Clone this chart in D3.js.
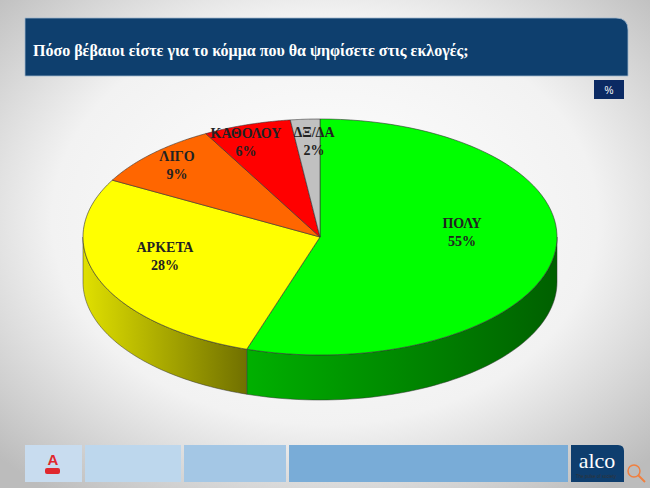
<!DOCTYPE html>
<html><head><meta charset="utf-8">
<script src="https://cdn.jsdelivr.net/npm/d3@7"></script>
<style>body{margin:0;}svg{display:block;}</style>
</head><body>
<script>
const categories = ["ΠΟΛΥ","ΑΡΚΕΤΑ","ΛΙΓΟ","ΚΑΘΟΛΟΥ","ΔΞ/ΔΑ"];
const values = [55,28,9,6,2];
const topColors = ["#00ff00","#ffff00","#ff6600","#ff0000","#c0c0c0"];
const sideColors = [["#00b000","#006000"],["#e0e000","#707000"],["#b04000","#803000"],["#a00000","#700000"],["#808080","#606060"]];
const labelPos = [[462,228],[165,252],[177,161],[246,138],[314,137]];
const title = "Πόσο βέβαιοι είστε για το κόμμα που θα ψηφίσετε στις εκλογές;";

const W=650,H=488, cx=320, cy=237, rx=237, ry=118, depth=45;
const svg=d3.select("body").append("svg").attr("width",W).attr("height",H);
const defs=svg.append("defs");
const bg=defs.append("radialGradient").attr("id","bg").attr("cx","50%").attr("cy","45%").attr("r","70%");
bg.append("stop").attr("offset","0%").attr("stop-color","#ffffff");
bg.append("stop").attr("offset","60%").attr("stop-color","#f2f2f2");
bg.append("stop").attr("offset","100%").attr("stop-color","#bcbcbc");
svg.append("rect").attr("width",W).attr("height",H).attr("fill","url(#bg)");

svg.append("path").attr("d","M25,18 H616 Q628,18 628,30 V76 H25 Z").attr("fill","#0e3f6e").attr("stroke","#9fb6cc").attr("stroke-width",0.8);
svg.append("text").attr("x",33).attr("y",56).attr("fill","#fff").attr("font-family","Liberation Serif").attr("font-weight","bold").attr("font-size",16).text(title);
svg.append("rect").attr("x",594).attr("y",80).attr("width",30).attr("height",19).attr("fill","#0b2a63");
svg.append("text").attr("x",609).attr("y",94).attr("text-anchor","middle").attr("fill","#fff").attr("font-family","Liberation Sans").attr("font-size",10).text("%");

const pie=d3.pie().sort(null).value(d=>d);
const arcs=pie(values);
const pt=(a,dy=0)=>[cx+rx*Math.sin(a), cy-ry*Math.cos(a)+dy];
const g=svg.append("g");
arcs.forEach((a,i)=>{
  const s=Math.max(a.startAngle,Math.PI/2), e=Math.min(a.endAngle,3*Math.PI/2);
  if(e<=s) return;
  const gid="side"+i;
  const lg=defs.append("linearGradient").attr("id",gid).attr("x1","0%").attr("x2","100%");
  lg.append("stop").attr("offset","0%").attr("stop-color",sideColors[i][0]);
  lg.append("stop").attr("offset","100%").attr("stop-color",sideColors[i][1]);
  const n=60, top=[], bot=[];
  for(let k=0;k<=n;k++){const t=s+(e-s)*k/n; top.push(pt(t)); bot.push(pt(t,depth));}
  const p=d3.path(); p.moveTo(...top[0]); top.forEach(q=>p.lineTo(...q)); bot.reverse().forEach(q=>p.lineTo(...q)); p.closePath();
  g.append("path").attr("d",p.toString()).attr("fill","url(#"+gid+")").attr("stroke","#333").attr("stroke-width",0.5);
});
arcs.forEach((a,i)=>{
  const n=80, p=d3.path(); p.moveTo(cx,cy);
  for(let k=0;k<=n;k++){const t=a.startAngle+(a.endAngle-a.startAngle)*k/n; p.lineTo(...pt(t));}
  p.closePath();
  g.append("path").attr("d",p.toString()).attr("fill",topColors[i]).attr("stroke","#333").attr("stroke-width",0.6);
});
arcs.forEach((a,i)=>{
  const t=g.append("text").attr("text-anchor","middle").attr("font-family","Liberation Serif").attr("font-weight","bold").attr("font-size",14).attr("fill","#222");
  t.append("tspan").attr("x",labelPos[i][0]).attr("y",labelPos[i][1]).text(categories[i]);
  t.append("tspan").attr("x",labelPos[i][0]).attr("y",labelPos[i][1]+18).text(values[i]+"%");
});

const fb=[[25,82,"#c8dcef"],[85,181,"#bdd7ed"],[184,286,"#a4c7e5"],[289,568,"#79acd7"]];
fb.forEach(b=>svg.append("rect").attr("x",b[0]).attr("y",445).attr("width",b[1]-b[0]).attr("height",37).attr("fill",b[2]));
svg.append("text").attr("x",53).attr("y",465).attr("text-anchor","middle").attr("fill","#e0282e").attr("font-family","Liberation Sans").attr("font-weight","bold").attr("font-size",15).text("A");
svg.append("rect").attr("x",45).attr("y",468).attr("width",15).attr("height",6).attr("rx",2).attr("fill","#e0282e");
svg.append("path").attr("d","M571,445 H618 Q624,445 624,451 V482 H571 Z").attr("fill","#0e3e6e");
svg.append("text").attr("x",597).attr("y",468).attr("text-anchor","middle").attr("fill","#fff").attr("font-family","Liberation Serif").attr("font-size",22).text("alco");
svg.append("text").attr("x",576).attr("y",478).attr("fill","#333").attr("font-family","Liberation Sans").attr("font-size",4.5).text("The pulse of society");
svg.append("circle").attr("cx",634).attr("cy",471).attr("r",6).attr("fill","none").attr("stroke","#f08040").attr("stroke-width",1.5);
svg.append("line").attr("x1",638).attr("y1",475).attr("x2",645).attr("y2",482).attr("stroke","#f08040").attr("stroke-width",2);
</script>
</body></html>
